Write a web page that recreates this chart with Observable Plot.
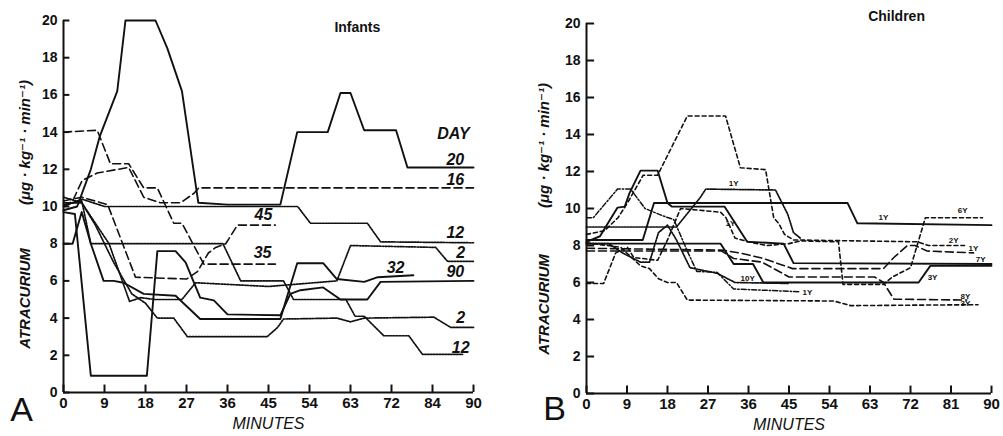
<!DOCTYPE html>
<html>
<head>
<meta charset="utf-8">
<script src="https://cdn.jsdelivr.net/npm/d3@7"></script>
<script src="https://cdn.jsdelivr.net/npm/@observablehq/plot@0.6"></script>
<style>
  html, body { margin: 0; padding: 0; background: #fff; }
  #wrap { position: relative; width: 1003px; height: 436px; overflow: hidden; }
  #left, #right { position: absolute; top: 0; }
  #left { left: 0; }
  #right { left: 500px; }
</style>
</head>
<body>
<div id="wrap"><div id="left"></div><div id="right"></div></div>
<script>
// ---------- shared axis data ----------
const minuteTicks = [0, 9, 18, 27, 36, 45, 54, 63, 72, 81, 90];
const infantTickLabels = ["0", "9", "18", "27", "36", "45", "54", "63", "72", "84", "90"];
const childTickLabels = ["0", "9", "18", "27", "36", "45", "54", "63", "72", "81", "90"];
const rateTicks = [0, 2, 4, 6, 8, 10, 12, 14, 16, 18, 20];
const yTitleDrug = "ATRACURIUM";
const yTitleUnit = "(\u03BCg \u00B7 kg\u207B\u00B9 \u00B7 min\u207B\u00B9)";
const xTitle = "MINUTES";

// ---------- Infants (panel A): [minutes, rate] ----------
const infDay20 = [[0,9.8],[3,10],[6,12],[8,13.8],[11.8,16.2],[13.6,20],[20.2,20],[22.8,18.5],[26,16.2],[29.6,10.2],[36,10.1],[47.6,10.1],[51.3,14],[58,14],[60.8,16.1],[63,16.1],[66,14.1],[73,14.1],[75.5,12.1],[90,12.1]];
const infDay16 = [[0,10],[2,10.3],[4.1,11.4],[7.4,11.8],[14.3,12.1],[17.6,10.5],[21.3,10.2],[25.7,10.2],[28.6,10.7],[29.7,11],[90,11]];
const infDay35 = [[0,14],[7.4,14.1],[10.3,12.3],[14.3,12.3],[17.6,11],[20.6,11],[24.2,9.1],[26,9.1],[30.8,6.9],[46.5,6.9]];
const infDay45 = [[0,10.3],[4,10.5],[9.7,10.1],[15.8,6.2],[27,6.1],[29.4,6.5],[31.8,7.5],[33.4,7.8],[35.6,8],[38.2,9],[46.5,9]];
const infDay12a = [[0,10],[4,10.4],[9,10],[51.4,10],[54.2,9.1],[66.7,9.1],[69.6,8.1],[90,8.05]];
const infDay2a = [[0,10.2],[4,10.2],[10,8],[14.5,4.9],[17,5.1],[20,5],[26,5],[29,5.9],[45,5.7],[60,6.0],[63,7.9],[81.7,7.8],[84.3,7.05],[90,7.05]];
const infDay12b = [[0,10.1],[4,10.3],[6,8],[35,8],[38.9,6],[48.3,6],[50.5,5],[62,5],[64,4.1],[66,4.1],[70.3,3.05],[75.8,3.05],[78.8,2.05],[87.6,2.05]];
const infDay2b = [[0,10.5],[4,10.2],[7,9],[11,7],[15,5.3],[18,4.8],[20.6,4],[24.2,4],[27.2,3],[44.7,3],[47,3.5],[48.3,3.95],[60,4.0],[63,3.8],[66,4.0],[81.3,4.05],[85,3.5],[90,3.5]];
const infDay32 = [[0,8],[2,8],[4,9.7],[6,8],[8.8,6],[11,6],[13.2,5.9],[17.6,5.3],[24.6,5.2],[30,3.95],[47.6,3.95],[49.5,5.5],[51.3,6.95],[57,6.95],[60,6.1],[66,5.95],[69,6.2],[76.8,6.3]];
const infDay90 = [[0,9.7],[2.5,9.6],[6,0.9],[18.3,0.9],[20.6,7.6],[24.6,7.6],[26.8,7.0],[30,5.1],[33,4.95],[36,4.2],[47.6,4.15],[49.8,5.3],[52,5.5],[57,5.65],[60.8,5.0],[66.7,5.0],[69.6,5.95],[90,6]];

const infantSeries = [
  {id: "20", style: "solid", pts: infDay20},
  {id: "16", style: "dashed", pts: infDay16},
  {id: "35", style: "dashed", pts: infDay35},
  {id: "45", style: "dashed", pts: infDay45},
  {id: "12a", style: "dotted", pts: infDay12a},
  {id: "2a", style: "dotted", pts: infDay2a},
  {id: "12b", style: "dotted", pts: infDay12b},
  {id: "2b", style: "dotted", pts: infDay2b},
  {id: "32", style: "solid", pts: infDay32},
  {id: "90", style: "solid", pts: infDay90}
];
const infantLabelText = ["DAY", "20", "16", "45", "12", "35", "2", "32", "90", "2", "12"];
const infantLabelT = [85.6, 86, 86, 43.9, 86, 43.7, 87.2, 72.9, 86, 87.2, 87.2];
const infantLabelV = [13.9, 12.5, 11.45, 9.55, 8.6, 7.5, 7.5, 6.7, 6.5, 4.0, 2.4];

// ---------- Children (panel B) ----------
const ch2Y = [[0,8.6],[4,8.8],[7,9.5],[9.1,10.3],[12.6,11.8],[15.8,11.8],[22.4,15],[30.9,15],[34.2,12.2],[39.8,12.1],[41.6,9.5],[42.7,9.2],[44,8.6],[46,8.3],[73.6,8.2],[76,8.0],[84,8.0]];
const ch1Ysolid = [[0,8.3],[12.5,8.3],[15,10.3],[58,10.3],[60.2,9.2],[90,9.1]];
const ch7Y = [[0,8.2],[3,8.5],[5.5,9.5],[6.9,10.05],[8.5,10.1],[9.5,10.8],[12,12.05],[15.8,12.05],[18,10.3],[19,10.1],[30.7,10.1],[35.7,8.2],[43.8,8.1],[46,7.05],[90,7.0]];
const ch3Ysolid = [[0,8.1],[29.8,8.1],[32.7,7.0],[37,7.0],[39.3,6.0],[73.8,6.0],[76.4,6.9],[90,6.9]];
const ch1Ytop = [[0,9],[20,9.0],[22,9.6],[25.3,10.6],[26.5,11.05],[42,11.0],[44.7,9.7],[46,8.7],[47.5,8.4]];
const ch1Ylow = [[0,9.5],[1.5,9.5],[6.9,11.05],[9.8,11.05],[13,10],[17,9.6],[19.4,9.4],[22.4,7.7],[24.5,6.6],[29,6.55],[32.7,5.65],[47.5,5.5]];
const ch10Y = [[0,8.1],[5,8.1],[8,7.6],[12,7.1],[14,7.1],[16,8.7],[18,9.1],[20,8.3],[23,6.8],[29,6.5],[33,6.0],[45,5.95]];
const ch6Y = [[0,5.95],[3.8,5.95],[6.5,7.6],[9.1,7.9],[10.5,7.35],[15.8,7.2],[18,8.3],[20.9,10.0],[29.8,9.8],[31,9.5],[33,8.4],[36,8.2],[40,8.0],[45,8.1],[47.6,8.25],[56,8.2],[57,5.9],[66,5.9],[68,6.3],[72,6.8],[75.3,9.5],[88,9.5]];
const ch3Ydash = [[0,8.15],[7.6,7.9],[12,6.9],[14,6.75],[16,6.2],[18,6.0],[20,6.0],[22.4,5.05],[55,5.0],[58.7,4.75],[87,4.8]];
const ch8Y = [[0,7.7],[30,7.7],[32.7,7.3],[39,7.1],[45,6.3],[64,6.3],[66,6.0],[68.3,5.1],[84.5,5.05]];
const ch1Yright = [[0,7.85],[30,7.75],[34,7.6],[39.3,7.3],[45.8,6.75],[66,6.75],[68.3,7.35],[71.3,8.0],[73,8.0],[75.7,7.7],[86,7.6]];

const childSeries = [
  {id: "2Y", style: "shortdash", pts: ch2Y},
  {id: "1Ys", style: "solid", pts: ch1Ysolid},
  {id: "7Y", style: "solid", pts: ch7Y},
  {id: "3Ys", style: "solid", pts: ch3Ysolid},
  {id: "1Yt", style: "dotted", pts: ch1Ytop},
  {id: "1Yl", style: "dashdot", pts: ch1Ylow},
  {id: "10Y", style: "dotted", pts: ch10Y},
  {id: "6Y", style: "shortdash", pts: ch6Y},
  {id: "3Yd", style: "shortdash", pts: ch3Ydash},
  {id: "8Y", style: "dashed", pts: ch8Y},
  {id: "1Yr", style: "dashed", pts: ch1Yright}
];
const childLabelText = ["1Y", "1Y", "10Y", "1Y", "1Y", "6Y", "2Y", "1Y", "7Y", "3Y", "8Y", "3Y"];
const childLabelT = [32.7, 32, 35.8, 49.1, 66, 83.6, 81.6, 86, 87.6, 76.9, 84.2, 84.2];
const childLabelV = [11.35, 9.2, 6.2, 5.45, 9.5, 9.9, 8.3, 7.85, 7.25, 6.3, 5.25, 4.85];

// ---------- rendering ----------
const INK = "#111";
const FONT = "Liberation Sans, DejaVu Sans, sans-serif";
const styles = {
  solid:     {strokeWidth: 1.9},
  dashed:    {strokeWidth: 1.6, strokeDasharray: "8,4"},
  shortdash: {strokeWidth: 1.6, strokeDasharray: "4,3"},
  dotted:    {strokeWidth: 1.7, strokeDasharray: "1.6,1.3"},
  dashdot:   {strokeWidth: 1.5, strokeDasharray: "5,2,1.5,2"}
};

function rowsOf(series) {
  return series.flatMap(s => s.pts.map(([t, v]) => ({id: s.id, style: s.style, t, v})));
}

function panel(cfg) {
  const rows = rowsOf(cfg.series);
  const labels = cfg.labelText.map((text, i) => ({text, t: cfg.labelT[i], v: cfg.labelV[i]}));
  const lineMarks = Object.keys(styles).map(s =>
    Plot.line(rows.filter(d => d.style === s), {x: "t", y: "v", z: "id", stroke: INK, strokeLinejoin: "round", ...styles[s]})
  );
  return Plot.plot({
    width: cfg.width, height: 436,
    marginLeft: cfg.ml, marginRight: cfg.mr, marginTop: cfg.mt, marginBottom: cfg.mb,
    x: {domain: [0, 90]},
    y: {domain: [0, 20]},
    style: {fontFamily: FONT, color: INK, background: "white"},
    marks: [
      Plot.ruleX([0], {y1: 0, y2: 20, stroke: INK, strokeWidth: 2}),
      Plot.ruleY([0], {x1: 0, x2: 90, stroke: INK, strokeWidth: 2}),
      Plot.ruleX(minuteTicks, {y1: 0, y2: 0.4, stroke: INK, strokeWidth: 2}),
      Plot.ruleY(rateTicks, {x1: 0, x2: cfg.ytick, stroke: INK, strokeWidth: 2}),
      Plot.axisX({ticks: minuteTicks, tickSize: 0, tickPadding: 5, fontSize: 15, fontWeight: "bold",
        tickFormat: d => cfg.tickLabels[minuteTicks.indexOf(d)], label: null}),
      Plot.axisY({ticks: rateTicks, tickSize: 0, tickPadding: 6, fontSize: 14, fontWeight: "bold", label: null}),
      ...lineMarks,
      Plot.text(labels, {x: "t", y: "v", text: "text", fontStyle: cfg.labelItalic ? "italic" : "normal",
        fontWeight: "bold", fontSize: cfg.labelSize, fill: INK}),
      Plot.text([yTitleDrug], {frameAnchor: "left", textAnchor: "middle", rotate: -90, dx: cfg.ytitleDx, dy: cfg.drugDy,
        fontStyle: "italic", fontWeight: "bold", fontSize: 15, fill: INK}),
      Plot.text([yTitleUnit], {frameAnchor: "left", textAnchor: "middle", rotate: -90, dx: cfg.ytitleDx, dy: cfg.unitDy,
        fontStyle: "italic", fontWeight: "bold", fontSize: 15, fill: INK}),
      Plot.text([xTitle], {frameAnchor: "bottom", textAnchor: "middle", dy: 36, fontStyle: "italic", fontSize: 16, fill: INK}),
      Plot.text([cfg.letter], {frameAnchor: "bottom-left", textAnchor: "middle", dx: cfg.letterDx, dy: cfg.letterDy, fontSize: 34, fill: INK}),
      Plot.text([cfg.title], {x: cfg.titleT, y: cfg.titleV, fontSize: 14, fontWeight: "bold", fill: INK})
    ]
  });
}

document.getElementById("left").append(panel({
  width: 500, ml: 63, mr: 27, mt: 20, mb: 44,
  series: infantSeries, labelText: infantLabelText, labelT: infantLabelT, labelV: infantLabelV,
  labelItalic: true, labelSize: 16, tickLabels: infantTickLabels, ytick: 1.4,
  ytitleDx: -38, drugDy: 92, unitDy: -64, letter: "A", letterDx: -42, letterDy: 28,
  title: "Infants", titleT: 64.5, titleV: 19.6
}));

document.getElementById("right").append(panel({
  width: 503, ml: 86, mr: 12, mt: 23, mb: 43,
  series: childSeries, labelText: childLabelText, labelT: childLabelT, labelV: childLabelV,
  labelItalic: false, labelSize: 8, tickLabels: childTickLabels, ytick: 1.8,
  ytitleDx: -42, drugDy: 96, unitDy: -63, letter: "B", letterDx: -32, letterDy: 26,
  title: "Children", titleT: 68.9, titleV: 20.4
}));
</script>
</body>
</html>
